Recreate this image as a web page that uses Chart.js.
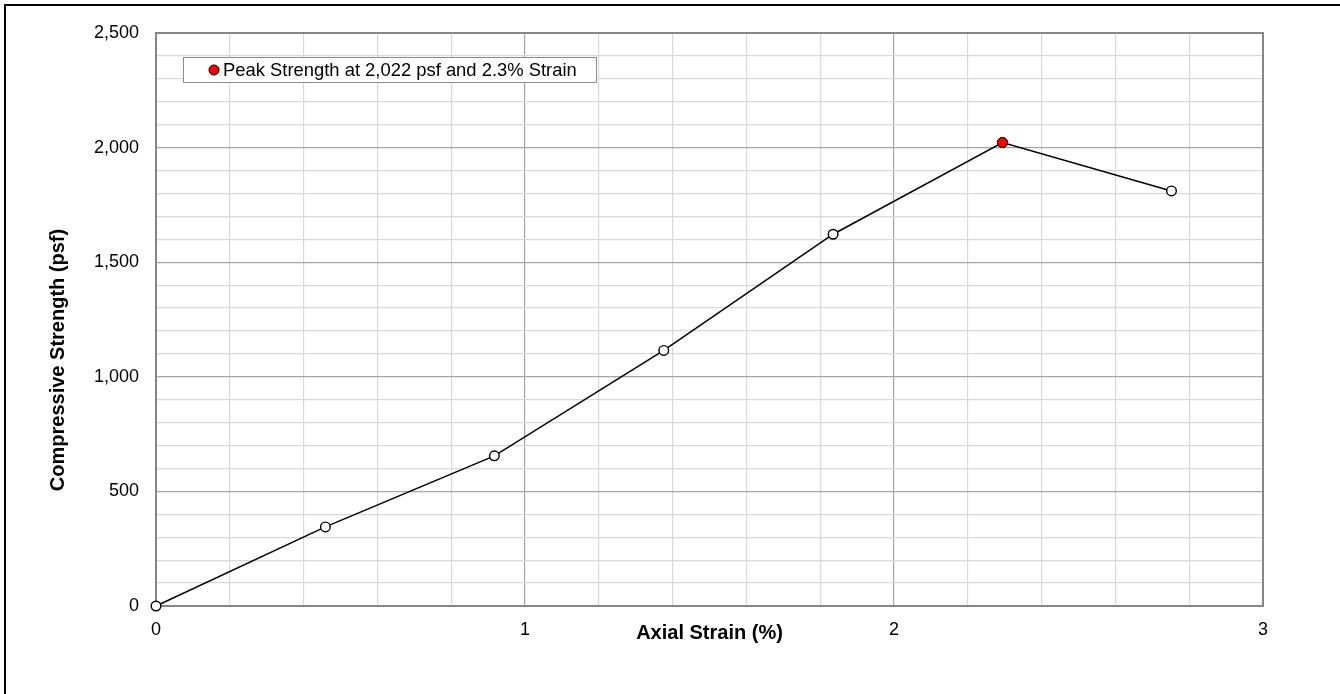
<!DOCTYPE html>
<html>
<head>
<meta charset="utf-8">
<script src="https://cdn.jsdelivr.net/npm/chart.js@4/dist/chart.umd.min.js"></script>
<style>
  html, body { margin: 0; padding: 0; background: #fff; }
  canvas { display: block; }
</style>
</head>
<body>
<canvas id="c" width="1340" height="694"></canvas>
<script>
// ---- data ----
const strainPct = [0, 0.459, 0.917, 1.376, 1.835, 2.294, 2.752];
const strengthPsf = [0, 345, 655, 1115, 1622, 2022, 1811];
const peakStrain = [2.294];
const peakStrength = [2022];
const peakLabel = 'Peak Strength at 2,022 psf and 2.3% Strain';
const xTitle = 'Axial Strain (%)';
const yTitle = 'Compressive Strength (psf)';

const FONT = "'Liberation Sans', Arial, sans-serif";
const MAJOR = '#a6a6a6', MINOR = '#d9d9d9', FRAME = '#868686';
const isMult = (v, m) => Math.abs(v / m - Math.round(v / m)) < 1e-6;

const framePlugin = {
  id: 'frame',
  beforeDraw(chart) {
    const c = chart.ctx;
    c.save();
    c.fillStyle = '#fff';
    c.fillRect(0, 0, chart.width, chart.height);
    c.fillStyle = '#000';
    c.fillRect(4, 4, 2, chart.height);
    c.fillRect(4, 4, chart.width, 2);
    c.restore();
  },
  beforeDatasetsDraw(chart) {
    const a = chart.chartArea, c = chart.ctx;
    c.save();
    c.strokeStyle = FRAME;
    c.lineWidth = 2;
    c.strokeRect(a.left, a.top, a.right - a.left, a.bottom - a.top);
    // y-axis title (centred lower than the plot centre, as in the original)
    c.translate(58, 360);
    c.rotate(-Math.PI / 2);
    c.fillStyle = '#000';
    c.font = 'bold 20px ' + FONT;
    c.textAlign = 'center';
    c.textBaseline = 'middle';
    c.fillText(yTitle, 0, 0);
    c.restore();
  },
  afterDraw(chart) {
    const c = chart.ctx;
    const ds = chart.data.datasets[1];
    c.save();
    const bx = 183, by = 57, bw = 413, bh = 25;
    c.fillStyle = '#fff';
    c.fillRect(bx, by, bw, bh);
    c.strokeStyle = '#8c8c8c';
    c.lineWidth = 1;
    c.strokeRect(bx + 0.5, by + 0.5, bw, bh);
    c.beginPath();
    c.arc(214, by + bh / 2 + 0.5, 5, 0, Math.PI * 2);
    c.fillStyle = ds.backgroundColor;
    c.fill();
    c.strokeStyle = ds.borderColor;
    c.lineWidth = 1;
    c.stroke();
    c.fillStyle = '#000';
    c.font = '18.4px ' + FONT;
    c.textBaseline = 'middle';
    c.textAlign = 'left';
    c.fillText(ds.label, 223, by + bh / 2 + 1);
    c.restore();
  }
};

new Chart(document.getElementById('c'), {
  type: 'scatter',
  data: {
    datasets: [
      {
        label: 'Test',
        data: strainPct.map((x, i) => ({ x, y: strengthPsf[i] })),
        showLine: true,
        clip: false,
        borderColor: '#000',
        borderWidth: 1.5,
        backgroundColor: '#fff',
        pointRadius: 4.8,
        pointBorderWidth: 1.4,
        pointBorderColor: '#000',
        pointBackgroundColor: '#fff',
        order: 2
      },
      {
        label: peakLabel,
        data: peakStrain.map((x, i) => ({ x, y: peakStrength[i] })),
        showLine: false,
        clip: false,
        borderColor: '#000',
        backgroundColor: '#ff0000',
        pointRadius: 5,
        pointBorderWidth: 1,
        order: 1
      }
    ]
  },
  options: {
    responsive: false,
    animation: false,
    devicePixelRatio: 1,
    layout: { padding: { left: 0, top: 33, right: 77, bottom: 0 } },
    plugins: { legend: { display: false }, tooltip: { enabled: false } },
    scales: {
      x: {
        type: 'linear', min: 0, max: 3,
        afterFit(s) { s.height = 88; },
        border: { display: true, color: FRAME, width: 2 },
        grid: {
          drawTicks: false,
          color: ctx => isMult(ctx.tick.value, 1) ? MAJOR : MINOR,
          lineWidth: 1.2
        },
        ticks: {
          stepSize: 0.2, autoSkip: false, maxRotation: 0, padding: 13,
          color: '#000', font: { family: FONT, size: 18 },
          callback: v => isMult(v, 1) ? String(Math.round(v)) : ''
        },
        title: {
          display: true, text: xTitle, color: '#000',
          font: { family: FONT, size: 20, weight: 'bold' },
          padding: { top: 0, bottom: 49 }
        }
      },
      y: {
        type: 'linear', min: 0, max: 2500,
        afterFit(s) { s.width = 156; },
        border: { display: true, color: FRAME, width: 2 },
        grid: {
          drawTicks: false,
          color: ctx => isMult(ctx.tick.value, 500) ? MAJOR : MINOR,
          lineWidth: 1.2
        },
        ticks: {
          stepSize: 100, autoSkip: false, padding: 17,
          color: '#000', font: { family: FONT, size: 18 },
          callback: v => isMult(v, 500) ? Math.round(v).toLocaleString('en-US') : ''
        },
        title: { display: false }
      }
    }
  },
  plugins: [framePlugin]
});
</script>
</body>
</html>
